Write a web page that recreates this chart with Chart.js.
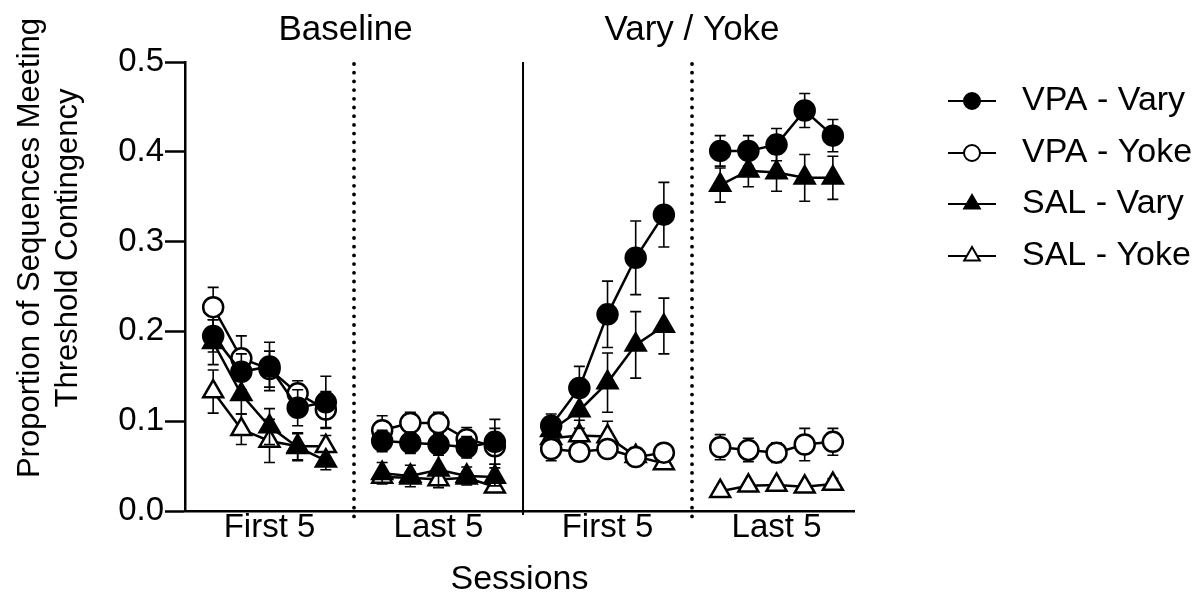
<!DOCTYPE html>
<html>
<head>
<meta charset="utf-8">
<script src="https://cdn.jsdelivr.net/npm/chart.js@4.4.1/dist/chart.umd.min.js"></script>
<style>
  html, body { margin: 0; background: #fff; }
  #wrap { width: 1200px; height: 594px; }
</style>
</head>
<body>
<div id="wrap"><canvas id="chart"></canvas></div>
<script>
// session positions on the x axis: four blocks of 5 with a one-slot gap between them
const sessionX = [0, 1, 2, 3, 4, 6, 7, 8, 9, 10, 12, 13, 14, 15, 16, 18, 19, 20, 21, 22];
const blockLabels = ['First 5', 'Last 5', 'First 5', 'Last 5'];
const blockCenters = [2, 8, 14, 20];
const phaseTitles = ['Baseline', 'Vary / Yoke'];
const phaseCenters = [4.7, 17];
const dottedDividers = [5, 17];
const solidDividers = [11];
const yTicks = [0, 0.1, 0.2, 0.3, 0.4, 0.5];

const seriesNames = ['VPA - Vary', 'VPA - Yoke', 'SAL - Vary', 'SAL - Yoke'];

const vpaVary = [0.195, 0.155, 0.161, 0.115, 0.121,  0.078, 0.076, 0.074, 0.071, 0.077,
                 0.095, 0.137, 0.219, 0.282, 0.330,  0.401, 0.401, 0.408, 0.446, 0.418];
const vpaVarySem = [0.018, 0.020, 0.027, 0.020, 0.029,  0.012, 0.012, 0.012, 0.012, 0.025,
                    0.013, 0.024, 0.037, 0.041, 0.036,  0.017, 0.017, 0.018, 0.019, 0.018];

const vpaYoke = [0.227, 0.170, 0.158, 0.131, 0.113,  0.090, 0.098, 0.098, 0.080, 0.072,
                 0.069, 0.066, 0.069, 0.060, 0.065,  0.071, 0.068, 0.065, 0.074, 0.077];
const vpaYokeSem = [0.022, 0.025, 0.020, 0.014, 0.020,  0.016, 0.012, 0.012, 0.013, 0.020,
                    0.013, 0.010, 0.010, 0.010, 0.007,  0.014, 0.013, 0.011, 0.018, 0.015];

const salVary = [0.188, 0.130, 0.094, 0.071, 0.056,  0.042, 0.039, 0.046, 0.039, 0.038,
                 0.090, 0.112, 0.143, 0.185, 0.206,  0.363, 0.379, 0.377, 0.371, 0.371];
const salVarySem = [0.025, 0.022, 0.020, 0.015, 0.010,  0.012, 0.012, 0.020, 0.010, 0.010,
                    0.010, 0.020, 0.033, 0.037, 0.031,  0.019, 0.018, 0.021, 0.026, 0.024];

const salYoke = [0.133, 0.091, 0.078, 0.072, 0.072,  0.038, 0.037, 0.035, 0.037, 0.027,
                 0.081, 0.084, 0.083, 0.061, 0.053,  0.022, 0.028, 0.029, 0.027, 0.030];
const salYokeSem = [0.024, 0.017, 0.024, 0.015, 0.012,  0.006, 0.006, 0.006, 0.006, 0.006,
                    0.010, 0.017, 0.017, 0.008, 0.005,  0.004, 0.004, 0.004, 0.004, 0.006];

const FONT = 'Liberation Sans, Arial, Helvetica, sans-serif';

// points of one series, with a null between blocks so lines break there
function toPoints(values) {
	const pts = [];
	values.forEach((v, i) => {
		if (i > 0 && sessionX[i] - sessionX[i - 1] > 1) {
			pts.push({x: sessionX[i] - 1, y: null});
		}
		pts.push({x: sessionX[i], y: v});
	});
	return pts;
}

function makeSet(label, values, sem, style, filled) {
	return {
		label: label,
		data: toPoints(values),
		sem: sem,
		showLine: true,
		spanGaps: false,
		borderColor: '#000',
		borderWidth: 2.5,
		pointStyle: style,
		pointRadius: style === 'triangle' ? 11.5 : 10,
		pointBorderWidth: 2.5,
		pointBackgroundColor: filled ? '#000' : '#fff',
		pointBorderColor: '#000',
		tension: 0,
	};
}

const datasets = [
	makeSet(seriesNames[0], vpaVary, vpaVarySem, 'circle', true),
	makeSet(seriesNames[1], vpaYoke, vpaYokeSem, 'circle', false),
	makeSet(seriesNames[2], salVary, salVarySem, 'triangle', true),
	makeSet(seriesNames[3], salYoke, salYokeSem, 'triangle', false),
];

// error bars for each dataset, drawn just before its own line and markers
const errorBars = {
	id: 'errorBars',
	beforeDatasetDraw(chart, args) {
		const ds = chart.data.datasets[args.index];
		const {x, y} = chart.scales;
		const ctx = chart.ctx;
		ctx.save();
		ctx.strokeStyle = '#000';
		ctx.lineWidth = 1.6;
		let k = 0;
		ds.data.forEach(p => {
			if (p.y === null) return;
			const e = ds.sem[k++];
			const px = x.getPixelForValue(p.x);
			const top = y.getPixelForValue(p.y + e);
			const bot = y.getPixelForValue(p.y - e);
			ctx.beginPath();
			ctx.moveTo(px, top); ctx.lineTo(px, bot);
			ctx.moveTo(px - 5.5, top); ctx.lineTo(px + 5.5, top);
			ctx.moveTo(px - 5.5, bot); ctx.lineTo(px + 5.5, bot);
			ctx.stroke();
		});
		ctx.restore();
	}
};

// dividers, phase titles, y title and legend
const decorations = {
	id: 'decorations',
	beforeDatasetsDraw(chart) {
		const {ctx, chartArea} = chart;
		const x = chart.scales.x;
		ctx.save();
		ctx.strokeStyle = '#000';
		solidDividers.forEach(v => {
			const px = x.getPixelForValue(v);
			ctx.lineWidth = 2;
			ctx.beginPath();
			ctx.moveTo(px, chartArea.top);
			ctx.lineTo(px, chartArea.bottom + 4);
			ctx.stroke();
		});
		dottedDividers.forEach(v => {
			const px = x.getPixelForValue(v);
			ctx.lineWidth = 3.8;
			ctx.lineCap = 'round';
			ctx.setLineDash([0, 8.7]);
			ctx.beginPath();
			ctx.moveTo(px, chartArea.top + 2);
			ctx.lineTo(px, chartArea.bottom + 6);
			ctx.stroke();
		});
		ctx.restore();
	},
	afterDraw(chart) {
		const {ctx} = chart;
		const x = chart.scales.x;
		ctx.save();
		ctx.fillStyle = '#000';
		ctx.textAlign = 'center';
		ctx.textBaseline = 'middle';
		ctx.font = '35px ' + FONT;
		phaseTitles.forEach((t, i) => {
			ctx.fillText(t, x.getPixelForValue(phaseCenters[i]), 30);
		});

		// two-line y axis title
		ctx.save();
		ctx.font = '31px ' + FONT;
		ctx.translate(30, 248);
		ctx.rotate(-Math.PI / 2);
		ctx.fillText('Proportion of Sequences Meeting', 0, 0);
		ctx.fillText('Threshold Contingency', 0, 38);
		ctx.restore();

		// legend: line with marker, then label
		ctx.font = '34px ' + FONT;
		const rows = [101, 153, 204, 256];
		chart.data.datasets.forEach((ds, i) => {
			const cy = rows[i];
			ctx.strokeStyle = '#000';
			ctx.lineWidth = 2.2;
			ctx.beginPath();
			ctx.moveTo(948, cy); ctx.lineTo(996, cy);
			ctx.stroke();
			ctx.fillStyle = ds.pointBackgroundColor;
			ctx.lineWidth = 2;
			Chart.helpers.drawPoint(ctx, {
				pointStyle: ds.pointStyle,
				radius: ds.pointStyle === 'triangle' ? 9 : 8,
				rotation: 0,
				borderWidth: 2
			}, 972, cy);
			ctx.fillStyle = '#000';
			ctx.textAlign = 'left';
			ctx.fillText(ds.label, 1022, cy);
		});
		ctx.restore();
	}
};

new Chart(document.getElementById('chart'), {
	type: 'scatter',
	data: {datasets: datasets},
	options: {
		animation: false,
		responsive: true,
		maintainAspectRatio: false,
		layout: {padding: {top: 62, right: 346, left: 0, bottom: 0}},
		plugins: {
			legend: {display: false},
			tooltip: {enabled: false},
		},
		scales: {
			x: {
				type: 'linear',
				min: -1,
				max: 22.75,
				afterFit(scale) { scale.height = 83; },
				afterBuildTicks(scale) {
					scale.ticks = blockCenters.map(v => ({value: v}));
				},
				ticks: {
					color: '#000',
					font: {family: FONT, size: 33, lineHeight: 1},
					padding: 0,
					maxRotation: 0,
					autoSkip: false,
					callback: (v) => blockLabels[blockCenters.indexOf(v)],
				},
				grid: {display: false, drawTicks: false},
				border: {display: true, color: '#000', width: 2.5},
				title: {
					display: true,
					text: 'Sessions',
					color: '#000',
					font: {family: FONT, size: 34, lineHeight: 0.85},
					padding: {top: 0, bottom: 0},
				},
			},
			y: {
				min: 0,
				max: 0.5,
				afterFit(scale) { scale.width = 185; },
				afterBuildTicks(scale) {
					scale.ticks = yTicks.map(v => ({value: v}));
				},
				ticks: {
					color: '#000',
					font: {family: FONT, size: 33},
					padding: 1,
					callback: (v) => v.toFixed(1),
				},
				grid: {
					drawOnChartArea: false,
					drawTicks: true,
					tickLength: 20,
					tickWidth: 2.5,
					tickColor: '#000',
				},
				border: {display: true, color: '#000', width: 2.5},
			},
		},
	},
	plugins: [errorBars, decorations],
});
</script>
</body>
</html>
